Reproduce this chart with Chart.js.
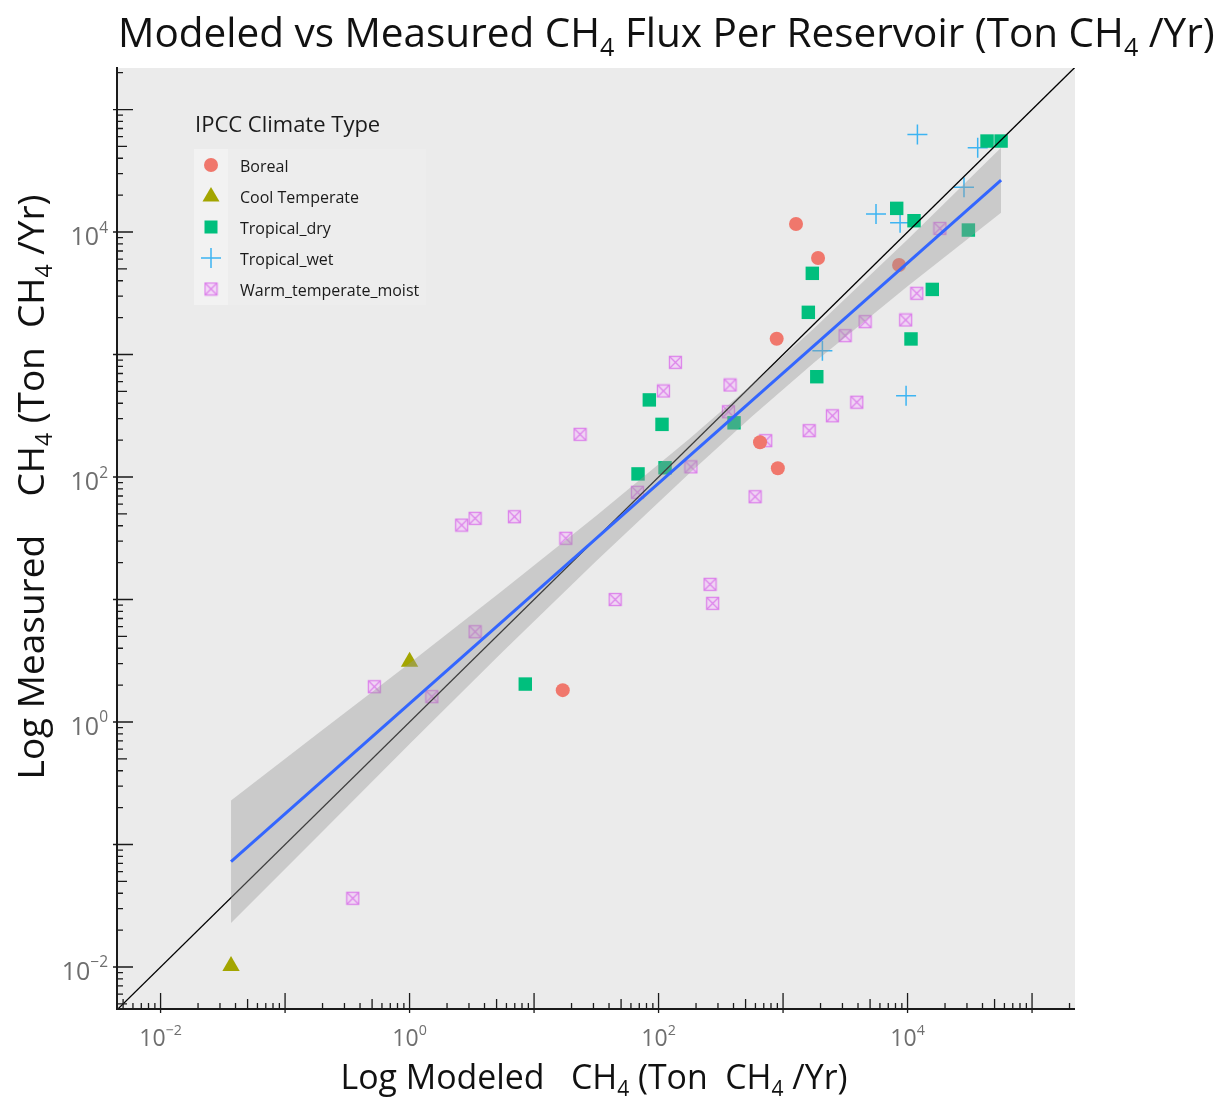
<!DOCTYPE html>
<html lang="en">
<head>
    <meta charset="UTF-8">
    <title>Modeled vs Measured CH4 Flux Per Reservoir</title>
    <script src="https://cdn.jsdelivr.net/npm/chart.js"></script>
    <style>
        html, body { margin: 0; padding: 0; background: #fff; }
        #wrap { width: 1228px; height: 1097px; }
    </style>
</head>
<body>
<div id="wrap"><canvas id="fluxChart" width="1228" height="1097"></canvas></div>
<script>
// values, [modeled, measured] in ton CH4 / yr
const boreal = [[1271, 11620], [1910, 6140], [889, 1346], [8550, 5380], [653, 192], [908, 118], [17.0, 1.82]];
const coolTemperate = [[1.0, 3.1], [0.0368, 0.0102]];
const tropicalDry = [[43500, 55300], [56400, 55300], [8180, 15600], [11270, 12370], [30800, 10380],
    [1718, 4600], [1596, 2210], [15800, 3400], [10660, 1340], [1866, 659], [84.3, 426], [106.6, 269],
    [404, 277], [68.4, 106], [112.7, 119], [8.5, 2.04]];
const tropicalWet = [[12000, 62600], [36600, 48700], [28400, 23200], [5580, 14000], [8710, 11900],
    [2070, 1074], [9730, 461]];
const warmTemperateMoist = [[11860, 3160], [9660, 1914], [4560, 1855], [3150, 1426], [375, 564],
    [364, 341], [3910, 408], [2490, 316], [1620, 239], [726, 198], [596, 69], [18200, 10700],
    [136.5, 863], [109.4, 504], [23.4, 223], [182, 121], [67.6, 75], [2.62, 40.5], [3.36, 46],
    [6.95, 47.4], [18, 31.6], [259, 13.3], [272, 9.3], [44.8, 10], [3.36, 5.46], [0.521, 1.94],
    [1.51, 1.61], [0.35, 0.0364]];

// fitted line and its confidence band
const fitLine = [[0.0368, 0.0724], [56400, 26550]];
const bandX = [0.0368, 0.178, 1, 5.62, 31.6, 178, 562, 1778, 10000, 56400];
const bandUpper = [0.229, 0.785, 3.02, 11.9, 48.3, 206, 568, 1637, 8670, 48900];
const bandLower = [0.0229, 0.1135, 0.661, 3.76, 20.6, 108, 312, 859, 3610, 14400];
const oneToOne = [[0.001, 0.001], [1e6, 1e6]];

const xTickExps = [-2, 0, 2, 4];
const yTickExps = [-2, 0, 2, 4];

const FONT = '"Open Sans", "Noto Sans", sans-serif';

const toPts = arr => arr.map(p => ({ x: p[0], y: p[1] }));

function boxCross(size, color, fill) {
    const c = document.createElement('canvas');
    c.width = size; c.height = size;
    const g = c.getContext('2d');
    g.fillStyle = fill;
    g.fillRect(1, 1, size - 2, size - 2);
    g.strokeStyle = color;
    g.lineWidth = 1.3;
    g.strokeRect(1.5, 1.5, size - 3, size - 3);
    g.beginPath();
    g.moveTo(2, 2); g.lineTo(size - 2, size - 2);
    g.moveTo(size - 2, 2); g.lineTo(2, size - 2);
    g.stroke();
    return c;
}
const warmIcon = boxCross(15, '#dc82ea', 'rgba(244,200,250,0.6)');

const series = [
    { label: 'Boreal', data: boreal, style: 'circle', radius: 7, color: '#F0776C' },
    { label: 'Cool Temperate', data: coolTemperate, style: 'triangle', radius: 10, color: '#A3A500' },
    { label: 'Tropical_dry', data: tropicalDry, style: 'rect', radius: 9.5, color: '#00BF7D' },
    { label: 'Tropical_wet', data: tropicalWet, style: 'cross', radius: 10, color: '#3DB4F2' },
    { label: 'Warm_temperate_moist', data: warmTemperateMoist, style: warmIcon, radius: 7, color: '#dc82ea' }
];

// rich text with sub/superscripts: parts = [[text, ''|'sub'|'sup'], ...]
function richWidth(ctx, parts, size) {
    let w = 0;
    parts.forEach(p => {
        ctx.font = (p[1] ? size * 0.62 : size) + 'px ' + FONT;
        w += ctx.measureText(p[0]).width;
    });
    return w;
}
function richText(ctx, parts, x, y, size, align) {
    const total = richWidth(ctx, parts, size);
    let cx = align === 'center' ? x - total / 2 : align === 'right' ? x - total : x;
    ctx.textAlign = 'left';
    ctx.textBaseline = 'alphabetic';
    parts.forEach(p => {
        ctx.font = (p[1] ? size * 0.62 : size) + 'px ' + FONT;
        const dy = p[1] === 'sub' ? size * 0.22 : p[1] === 'sup' ? -size * 0.5 : 0;
        ctx.fillText(p[0], cx, y + dy);
        cx += ctx.measureText(p[0]).width;
    });
}
function fitSize(ctx, parts, base, width) {
    return base * width / richWidth(ctx, parts, base);
}

const titleParts = [['Modeled vs Measured CH', ''], ['4', 'sub'], [' Flux Per Reservoir (Ton CH', ''], ['4', 'sub'], [' /Yr)', '']];
const xTitleParts = [['Log Modeled   CH', ''], ['4', 'sub'], [' (Ton  CH', ''], ['4', 'sub'], [' /Yr)', '']];
const yTitleParts = [['Log Measured    CH', ''], ['4', 'sub'], [' (Ton  CH', ''], ['4', 'sub'], [' /Yr)', '']];

const decorPlugin = {
    id: 'decor',
    beforeDraw(chart) {
        const ctx = chart.ctx, a = chart.chartArea;
        ctx.save();
        ctx.fillStyle = '#fff';
        ctx.fillRect(0, 0, chart.width, chart.height);
        ctx.fillStyle = '#EBEBEB';
        ctx.fillRect(a.left, a.top, a.right - a.left, a.bottom - a.top);
        ctx.restore();
    },
    afterDraw(chart) {
        const ctx = chart.ctx, a = chart.chartArea;
        const xs = chart.scales.x, ys = chart.scales.y;
        ctx.save();

        // axis lines
        ctx.strokeStyle = '#1a1a1a';
        ctx.lineWidth = 2;
        ctx.beginPath();
        ctx.moveTo(a.left, a.top - 1); ctx.lineTo(a.left, a.bottom);
        ctx.lineTo(a.right, a.bottom);
        ctx.stroke();

        // log ticks pointing inward
        ctx.lineWidth = 1.3;
        ctx.beginPath();
        for (let e = -3; e <= 5; e++) {
            for (let m = 1; m <= 9; m++) {
                const v = m * Math.pow(10, e);
                const len = m === 1 ? 16 : m === 5 ? 10 : 6;
                const out = m === 1 ? 4 : 0;
                if (v >= xs.min && v <= xs.max) {
                    const px = xs.getPixelForValue(v);
                    ctx.moveTo(px, a.bottom + out); ctx.lineTo(px, a.bottom - len);
                }
                if (v >= ys.min && v <= ys.max) {
                    const py = ys.getPixelForValue(v);
                    ctx.moveTo(a.left - out, py); ctx.lineTo(a.left + len, py);
                }
            }
        }
        ctx.stroke();

        // tick labels
        ctx.fillStyle = '#6e6e6e';
        xTickExps.forEach(e => {
            const px = xs.getPixelForValue(Math.pow(10, e));
            richText(ctx, [['10', ''], [e < 0 ? '\u2212' + (-e) : String(e), 'sup']], px, 1046, 23, 'center');
        });
        yTickExps.forEach(e => {
            const py = ys.getPixelForValue(Math.pow(10, e));
            richText(ctx, [['10', ''], [e < 0 ? '\u2212' + (-e) : String(e), 'sup']], 108, py + 13, 25, 'right');
        });

        // titles
        ctx.fillStyle = '#111';
        const ts = fitSize(ctx, titleParts, 36, 1097);
        richText(ctx, titleParts, 118, 47, ts, 'left');
        const xts = fitSize(ctx, xTitleParts, 30, 507);
        richText(ctx, xTitleParts, 594, 1089, xts, 'center');
        ctx.save();
        ctx.translate(44, 487);
        ctx.rotate(-Math.PI / 2);
        const yts = fitSize(ctx, yTitleParts, 30, 585);
        richText(ctx, yTitleParts, 0, 0, yts, 'center');
        ctx.restore();

        // legend inside the panel
        ctx.fillStyle = '#1a1a1a';
        ctx.font = '22px ' + FONT;
        ctx.textAlign = 'left';
        ctx.textBaseline = 'alphabetic';
        ctx.fillText('IPCC Climate Type', 195, 132);
        ctx.fillStyle = 'rgba(255,255,255,0.1)';
        ctx.fillRect(194, 149, 232, 156);
        ctx.fillStyle = '#F2F2F2';
        ctx.fillRect(194, 149, 34, 156);
        series.forEach((s, i) => {
            const cy = 165 + i * 31, cx = 211;
            ctx.fillStyle = s.color;
            ctx.strokeStyle = s.color;
            ctx.beginPath();
            if (s.style === 'circle') {
                ctx.arc(cx, cy, 7, 0, Math.PI * 2); ctx.fill();
            } else if (s.style === 'triangle') {
                ctx.moveTo(cx, cy - 9); ctx.lineTo(cx + 8.5, cy + 5.5); ctx.lineTo(cx - 8.5, cy + 5.5);
                ctx.closePath(); ctx.fill();
            } else if (s.style === 'rect') {
                ctx.fillRect(cx - 6.5, cy - 6.5, 13, 13);
            } else if (s.style === 'cross') {
                ctx.lineWidth = 1.5;
                ctx.moveTo(cx - 10, cy); ctx.lineTo(cx + 10, cy);
                ctx.moveTo(cx, cy - 10); ctx.lineTo(cx, cy + 10);
                ctx.stroke();
            } else {
                ctx.drawImage(s.style, cx - 7.5, cy - 7.5);
            }
            ctx.fillStyle = '#1a1a1a';
            ctx.font = '16px ' + FONT;
            ctx.fillText(s.label, 240, cy + 7);
        });
        ctx.restore();
    }
};

const pointSets = series.map((s, i) => ({
    type: 'scatter',
    label: s.label,
    data: toPts(s.data),
    pointStyle: s.style,
    pointRadius: s.radius,
    pointBackgroundColor: s.color,
    pointBorderColor: s.color,
    pointBorderWidth: s.style === 'cross' ? 1.5 : 0,
    order: 10 + i
}));

new Chart(document.getElementById('fluxChart'), {
    type: 'scatter',
    data: {
        datasets: [
            {
                type: 'line', label: 'fit', data: toPts(fitLine),
                borderColor: '#3366FF', borderWidth: 3, pointRadius: 0, fill: false, order: 0
            },
            {
                type: 'line', label: 'band upper', data: bandX.map((x, i) => ({ x: x, y: bandUpper[i] })),
                borderWidth: 0, borderColor: 'rgba(0,0,0,0)', pointRadius: 0,
                backgroundColor: 'rgba(153,153,153,0.4)', fill: '+1', order: 1
            },
            {
                type: 'line', label: 'band lower', data: bandX.map((x, i) => ({ x: x, y: bandLower[i] })),
                borderWidth: 0, borderColor: 'rgba(0,0,0,0)', pointRadius: 0, fill: false, order: 1
            },
            {
                type: 'line', label: '1:1', data: toPts(oneToOne),
                borderColor: '#000', borderWidth: 1.3, pointRadius: 0, fill: false, order: 2
            },
            ...pointSets
        ]
    },
    options: {
        responsive: false,
        animation: false,
        events: [],
        layout: { padding: { left: 117, top: 68, right: 153, bottom: 88 } },
        scales: {
            x: { type: 'logarithmic', bounds: 'data', min: Math.pow(10, -2.35), max: Math.pow(10, 5.345), display: false },
            y: { type: 'logarithmic', bounds: 'data', min: Math.pow(10, -2.343), max: Math.pow(10, 5.339), display: false }
        },
        plugins: {
            legend: { display: false },
            tooltip: { enabled: false },
            title: { display: false }
        }
    },
    plugins: [decorPlugin]
});
</script>
</body>
</html>
